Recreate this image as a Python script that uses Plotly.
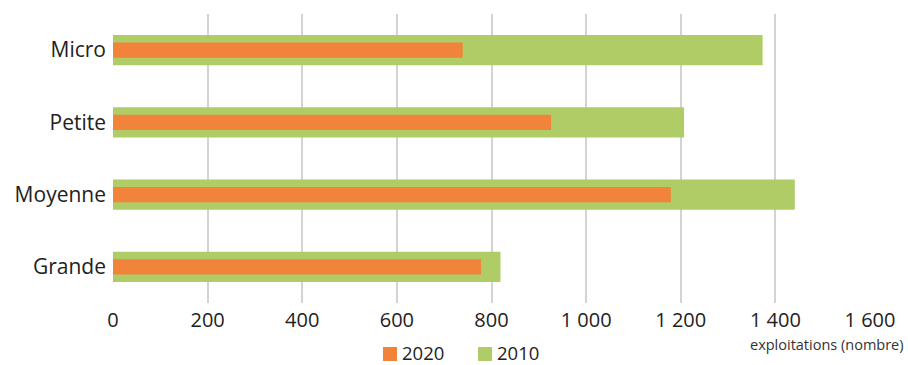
import plotly.graph_objects as go

categories = ["Micro", "Petite", "Moyenne", "Grande"]
values_2010 = [1373, 1207, 1441, 819]
values_2020 = [739, 926, 1179, 778]
tick_vals = [0, 200, 400, 600, 800, 1000, 1200, 1400, 1600]
tick_text = ["0", "200", "400", "600", "800", "1 000", "1 200", "1 400", "1 600"]
legend_items = [("2020", "#F1833A"), ("2010", "#AFCC66")]

ORANGE = "#F1833A"
GREEN = "#AFCC66"
FONT = "Open Sans, sans-serif"

W, H = 908, 365
L, R, T, B = 113, 38, 14, 62
PW, PH = W - L - R, H - T - B


def px(x):
    return (x - L) / PW


def py(y):
    return (H - B - y) / PH


fig = go.Figure()
fig.add_trace(go.Bar(
    y=categories, x=values_2010, orientation="h", name="2010",
    marker=dict(color=GREEN, line=dict(width=0)), width=0.42,
))
fig.add_trace(go.Bar(
    y=categories, x=values_2020, orientation="h", name="2020",
    marker=dict(color=ORANGE, line=dict(width=0)), width=0.21,
))

# custom legend (square + label), kept compact like the reference
shapes = []
annotations = []
leg_x = [383, 478]
for (label, color), x0 in zip(legend_items, leg_x):
    shapes.append(dict(type="rect", xref="paper", yref="paper",
                       x0=px(x0), x1=px(x0 + 14), y0=py(361), y1=py(347),
                       fillcolor=color, line=dict(width=0)))
    annotations.append(dict(text=label, xref="paper", yref="paper",
                            x=px(x0 + 17), y=py(352.5), xanchor="left", yanchor="middle",
                            showarrow=False, font=dict(size=18.5, color="#222222")))

annotations.append(dict(
    text="exploitations (nombre)", xref="paper", yref="paper",
    x=px(906), y=py(344.5), xanchor="right", yanchor="middle", showarrow=False,
    font=dict(size=14.5, color="#333333"),
))

fig.update_layout(
    width=W, height=H,
    margin=dict(l=L, r=R, t=T, b=B, autoexpand=False),
    barmode="overlay",
    plot_bgcolor="white", paper_bgcolor="white",
    font=dict(family=FONT, size=20, color="#222222"),
    showlegend=False,
    xaxis=dict(
        range=[0, 1600], tickvals=tick_vals, ticktext=tick_text,
        showgrid=True, gridcolor="#D3D3D3", gridwidth=2,
        zeroline=False, showline=False, automargin=False,
        ticks="", tickfont=dict(size=20, color="#222222"),
        ticklabelstandoff=3,
    ),
    yaxis=dict(
        categoryorder="array", categoryarray=categories, autorange="reversed",
        showgrid=False, zeroline=False, showline=False, ticks="", automargin=False,
        tickfont=dict(size=21, color="#222222"), ticklabelstandoff=6,
    ),
    shapes=shapes,
    annotations=annotations,
)

fig.write_html("out.html")
